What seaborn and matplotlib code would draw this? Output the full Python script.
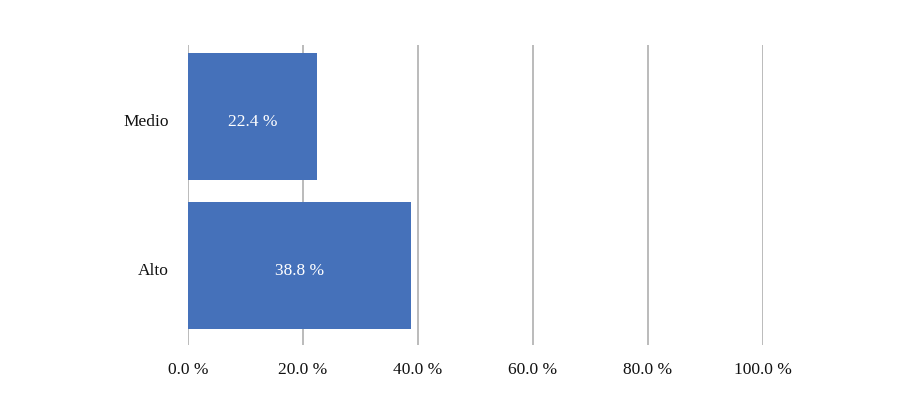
import matplotlib
matplotlib.use("Agg")
import matplotlib.pyplot as plt
import matplotlib.transforms as mtrans
import seaborn as sns
import pandas as pd

categories = ["Medio", "Alto"]
values = [22.4, 38.8]
xticks = [0, 20, 40, 60, 80, 100]
xtick_labels = ["0.0 %", "20.0 %", "40.0 %", "60.0 %", "80.0 %", "100.0 %"]

sns.set_style("white")
plt.rcParams["font.family"] = ["Liberation Serif", "DejaVu Serif"]

df = pd.DataFrame({"cat": categories, "val": values})

fig = plt.figure(figsize=(9.13, 3.95), dpi=100)
ax = fig.add_axes([0.2059, 0.1266, 0.6298, 0.7595])

sns.barplot(data=df, y="cat", x="val", orient="h", color="#4571BA",
            saturation=1, width=0.855, ax=ax, zorder=3, linewidth=0,
            edgecolor="none")

ax.set_xlim(0, 100)
ax.set_ylim(1.534, -0.48)
ax.set_xticks(xticks)
ax.set_xticklabels(xtick_labels, fontsize=12.5, color="#111111")
ax.tick_params(axis="x", length=0, pad=12)
ax.tick_params(axis="y", length=0, pad=14, labelsize=12.5, labelcolor="#111111")
offset = mtrans.ScaledTranslation(0, -4 / 100, fig.dpi_scale_trans)
for lbl in ax.get_yticklabels():
    lbl.set_transform(lbl.get_transform() + offset)
ax.set_xlabel("")
ax.set_ylabel("")
ax.xaxis.grid(True, color="#a8a8a8", linewidth=1.1, zorder=0)
ax.yaxis.grid(False)
for s in ax.spines.values():
    s.set_visible(False)

for i, v in enumerate(values):
    ax.text(v / 2, i + 0.04, f"{v:.1f} %", ha="center", va="center",
            color="white", fontsize=12.5, zorder=4)

fig.savefig("out.png", dpi=100)
